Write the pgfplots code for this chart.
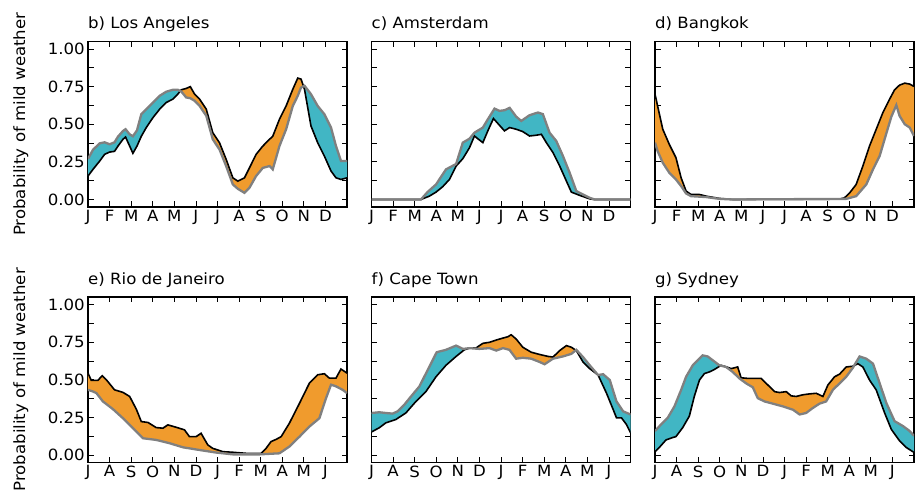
\documentclass[border=0pt]{standalone}
\usepackage{fontspec}
\setmainfont{DejaVu Sans}[FakeStretch=1.07]
\usepackage{pgfplots}
\pgfplotsset{compat=1.18}
\usepgfplotslibrary{groupplots,fillbetween}
\usetikzlibrary{calc}
\definecolor{tealfill}{RGB}{65,182,196}
\definecolor{orangefill}{RGB}{240,155,45}
\definecolor{pastgray}{RGB}{128,128,128}
\newcommand\fs{\fontsize{15.5}{18}\selectfont}
\begin{document}
\begin{tikzpicture}
\begin{groupplot}[
  group style={group size=3 by 2, horizontal sep=24.5pt, vertical sep=90pt},
  width=259pt, height=165.5pt, scale only axis,
  xmin=0, xmax=12, ymin=-0.05, ymax=1.05,
  xtick={0,1,2,3,4,5,6,7,8,9,10,11},
  ytick={0,0.125,0.25,0.375,0.5,0.625,0.75,0.875,1},
  yticklabels={},
  tick align=inside,
  major tick length=5.5pt,
  every tick/.style={black,line width=0.8pt},
  axis line style={line width=1.5pt},
  ticklabel style={font=\fs},
  xticklabel style={inner sep=2pt,yshift=-1pt},
  yticklabel style={inner sep=3pt},
  title style={at={(0,1)},anchor=base west,yshift=6.5pt,font=\fs,inner sep=0pt},
  ylabel style={at={(axis description cs:-0.243,0.5)},anchor=base,font=\fs},
  set layers,
  fut/.style={draw=black,line width=1.6pt},
  past/.style={draw=pastgray,line width=2.3pt},
]
% b) Los Angeles
\nextgroupplot[title={b) Los Angeles},
  ylabel={Probability of mild weather},
  yticklabels={0.00,,0.25,,0.50,,0.75,,1.00},
  xticklabels={J,F,M,A,M,J,J,A,S,O,N,D}]
\addplot[fut,name path=B1] coordinates {(0,0.156)(0.23,0.20)(0.54,0.255)(0.77,0.30)(1.00,0.315)(1.23,0.32)(1.39,0.355)(1.62,0.40)(1.74,0.415)(1.93,0.355)(2.08,0.307)(2.27,0.355)(2.47,0.42)(2.70,0.478)(3.01,0.544)(3.32,0.60)(3.62,0.644)(3.93,0.667)(4.16,0.70)(4.32,0.729)(4.55,0.738)(4.74,0.75)(4.94,0.70)(5.17,0.667)(5.48,0.60)(5.78,0.444)(6.09,0.378)(6.40,0.267)(6.71,0.144)(6.94,0.122)(7.25,0.144)(7.48,0.21)(7.79,0.30)(8.10,0.355)(8.41,0.40)(8.56,0.42)(8.87,0.533)(9.18,0.622)(9.49,0.733)(9.72,0.807)(9.87,0.80)(10.03,0.733)(10.33,0.489)(10.64,0.378)(10.95,0.289)(11.26,0.189)(11.49,0.144)(11.72,0.133)(12,0.144)};
\addplot[past,name path=G1] coordinates {(0,0.27)(0.23,0.33)(0.54,0.373)(0.77,0.38)(1.00,0.367)(1.23,0.38)(1.39,0.418)(1.62,0.455)(1.74,0.467)(1.93,0.433)(2.08,0.42)(2.27,0.46)(2.47,0.567)(2.70,0.60)(3.01,0.644)(3.32,0.689)(3.62,0.716)(3.93,0.729)(4.16,0.729)(4.32,0.718)(4.55,0.678)(4.74,0.673)(4.94,0.656)(5.17,0.622)(5.48,0.556)(5.78,0.40)(6.09,0.333)(6.40,0.222)(6.71,0.10)(6.94,0.071)(7.25,0.044)(7.48,0.078)(7.79,0.156)(8.10,0.21)(8.41,0.222)(8.56,0.20)(8.87,0.355)(9.18,0.467)(9.49,0.622)(9.72,0.689)(9.87,0.744)(10.03,0.756)(10.33,0.70)(10.64,0.622)(10.95,0.567)(11.26,0.478)(11.49,0.355)(11.72,0.256)(12,0.256)};
\addplot[tealfill] fill between[of=B1 and G1, soft clip={domain=0:4.25}];
\addplot[orangefill] fill between[of=B1 and G1, soft clip={domain=4.25:9.95}];
\addplot[tealfill] fill between[of=B1 and G1, soft clip={domain=9.95:12}];
% c) Amsterdam
\nextgroupplot[title={c) Amsterdam},
  xticklabels={J,F,M,A,M,J,J,A,S,O,N,D}]
\addplot[fut,name path=B2] coordinates {(0,0)(2.29,0)(2.68,0.022)(2.99,0.049)(3.30,0.085)(3.61,0.133)(3.92,0.222)(4.23,0.271)(4.54,0.344)(4.77,0.422)(4.92,0.404)(5.16,0.378)(5.39,0.456)(5.65,0.538)(5.93,0.493)(6.16,0.456)(6.40,0.478)(6.70,0.467)(7.01,0.451)(7.32,0.422)(7.63,0.427)(7.87,0.433)(8.10,0.378)(8.41,0.311)(8.72,0.222)(9.03,0.122)(9.26,0.049)(9.65,0.027)(10.11,0.004)(10.3,0)(12,0)};
\addplot[past,name path=G2] coordinates {(0,0)(2.29,0)(2.60,0.05)(2.99,0.10)(3.45,0.20)(3.92,0.236)(4.23,0.378)(4.54,0.404)(4.77,0.444)(5.16,0.478)(5.39,0.533)(5.70,0.604)(5.93,0.589)(6.16,0.593)(6.40,0.609)(6.70,0.551)(6.94,0.522)(7.32,0.56)(7.71,0.578)(7.94,0.567)(8.25,0.444)(8.56,0.389)(8.87,0.289)(9.18,0.178)(9.49,0.056)(9.80,0.033)(10.11,0.011)(10.34,0)(12,0)};
\addplot[tealfill] fill between[of=B2 and G2];
% d) Bangkok
\nextgroupplot[title={d) Bangkok},
  xticklabels={J,F,M,A,M,J,J,A,S,O,N,D}]
\addplot[fut,name path=B3] coordinates {(0,0.70)(0.12,0.622)(0.36,0.467)(0.66,0.367)(0.97,0.278)(1.21,0.144)(1.44,0.056)(1.67,0.033)(2.06,0.033)(2.37,0.022)(2.98,0.007)(3.60,0)(8.55,0.002)(8.78,0.011)(9.02,0.044)(9.32,0.10)(9.63,0.222)(9.94,0.356)(10.25,0.467)(10.56,0.578)(10.87,0.667)(11.10,0.729)(11.33,0.76)(11.57,0.773)(11.80,0.767)(12,0.751)};
\addplot[past,name path=G3] coordinates {(0,0.378)(0.12,0.322)(0.36,0.244)(0.66,0.178)(0.97,0.133)(1.21,0.089)(1.44,0.04)(1.67,0.022)(2.37,0.016)(2.98,0.004)(3.60,0)(8.86,0.004)(9.32,0.022)(9.79,0.10)(10.10,0.20)(10.41,0.29)(10.72,0.44)(10.95,0.55)(11.18,0.627)(11.33,0.556)(11.57,0.50)(11.80,0.478)(12,0.422)};
\addplot[orangefill] fill between[of=B3 and G3];
% e) Rio de Janeiro
\nextgroupplot[title={e) Rio de Janeiro},
  ylabel={Probability of mild weather},
  yticklabels={0.00,,0.25,,0.50,,0.75,,1.00},
  xticklabels={J,A,S,O,N,D,J,F,M,A,M,J}]
\addplot[fut,name path=B4] coordinates {(0,0.544)(0.15,0.496)(0.46,0.496)(0.66,0.527)(0.85,0.50)(1.23,0.433)(1.62,0.416)(1.93,0.389)(2.24,0.304)(2.47,0.222)(2.78,0.216)(3.16,0.182)(3.47,0.178)(3.70,0.20)(4.09,0.184)(4.47,0.167)(4.70,0.122)(5.01,0.122)(5.24,0.144)(5.55,0.067)(5.78,0.044)(6.25,0.022)(6.71,0.018)(7.33,0.011)(8.02,0.011)(8.25,0.044)(8.48,0.089)(8.72,0.104)(8.95,0.122)(9.33,0.211)(9.80,0.344)(10.26,0.478)(10.64,0.533)(10.95,0.540)(11.18,0.511)(11.49,0.511)(11.72,0.571)(12,0.544)};
\addplot[past,name path=G4] coordinates {(0,0.433)(0.23,0.422)(0.39,0.411)(0.69,0.356)(1.16,0.304)(1.62,0.244)(2.08,0.178)(2.55,0.111)(3.16,0.10)(3.78,0.078)(4.40,0.051)(5.17,0.033)(5.94,0.016)(6.71,0.004)(7.94,0.004)(8.87,0.011)(9.33,0.056)(9.80,0.122)(10.26,0.189)(10.72,0.244)(11.03,0.378)(11.26,0.467)(11.49,0.456)(11.80,0.433)(12,0.411)};
\addplot[orangefill] fill between[of=B4 and G4];
% f) Cape Town
\nextgroupplot[title={f) Cape Town},
  xticklabels={J,A,S,O,N,D,J,F,M,A,M,J}]
\addplot[fut,name path=B5] coordinates {(0,0.153)(0.36,0.181)(0.67,0.214)(1.13,0.236)(1.59,0.279)(2.06,0.356)(2.52,0.421)(2.99,0.52)(3.45,0.596)(3.92,0.655)(4.30,0.699)(4.54,0.71)(4.85,0.712)(5.16,0.742)(5.47,0.749)(5.78,0.764)(6.09,0.777)(6.32,0.786)(6.47,0.799)(6.70,0.771)(7.01,0.716)(7.40,0.683)(7.79,0.668)(8.18,0.655)(8.41,0.651)(8.72,0.694)(9.03,0.727)(9.26,0.716)(9.49,0.694)(9.80,0.618)(10.11,0.574)(10.50,0.531)(10.89,0.41)(11.20,0.301)(11.35,0.247)(11.58,0.247)(11.81,0.203)(12,0.148)};
\addplot[past,name path=G5] coordinates {(0,0.279)(0.36,0.284)(0.67,0.279)(0.98,0.275)(1.21,0.29)(1.52,0.334)(1.83,0.389)(2.21,0.454)(2.52,0.541)(2.83,0.629)(3.02,0.683)(3.45,0.699)(3.92,0.727)(4.23,0.705)(4.54,0.71)(5.0,0.705)(5.47,0.71)(5.78,0.694)(6.09,0.71)(6.39,0.699)(6.70,0.64)(7.01,0.646)(7.40,0.64)(7.79,0.618)(8.02,0.603)(8.41,0.64)(8.87,0.655)(9.26,0.672)(9.49,0.699)(9.80,0.651)(10.11,0.596)(10.50,0.531)(10.73,0.537)(11.04,0.498)(11.35,0.356)(11.66,0.290)(12,0.269)};
\addplot[tealfill] fill between[of=B5 and G5, soft clip={domain=0:4.45}];
\addplot[orangefill] fill between[of=B5 and G5, soft clip={domain=4.45:9.5}];
\addplot[tealfill] fill between[of=B5 and G5, soft clip={domain=9.5:12}];
% g) Sydney
\nextgroupplot[title={g) Sydney},
  xticklabels={J,A,S,O,N,D,J,F,M,A,M,J}]
\addplot[fut,name path=B6] coordinates {(0,0.022)(0.2,0.05)(0.51,0.10)(0.82,0.116)(0.97,0.122)(1.28,0.181)(1.59,0.258)(1.82,0.389)(2.06,0.498)(2.29,0.541)(2.52,0.552)(2.75,0.568)(3.06,0.596)(3.32,0.585)(3.53,0.574)(3.83,0.585)(3.99,0.513)(4.30,0.509)(4.61,0.509)(4.92,0.509)(5.23,0.465)(5.54,0.421)(5.77,0.415)(6.08,0.421)(6.31,0.393)(6.54,0.389)(6.85,0.40)(7.16,0.406)(7.47,0.41)(7.78,0.389)(8.01,0.465)(8.32,0.52)(8.55,0.537)(8.86,0.585)(9.17,0.59)(9.40,0.607)(9.63,0.585)(9.94,0.498)(10.25,0.432)(10.64,0.279)(10.95,0.17)(11.33,0.094)(11.64,0.05)(12,0.017)};
\addplot[past,name path=G6] coordinates {(0,0.159)(0.28,0.203)(0.59,0.247)(0.90,0.323)(1.21,0.432)(1.44,0.52)(1.75,0.596)(1.98,0.629)(2.21,0.662)(2.44,0.655)(2.68,0.629)(2.98,0.596)(3.29,0.585)(3.60,0.552)(3.91,0.509)(4.22,0.476)(4.53,0.45)(4.76,0.378)(5.07,0.356)(5.46,0.341)(5.92,0.323)(6.39,0.301)(6.70,0.269)(7.0,0.279)(7.31,0.312)(7.62,0.341)(7.93,0.356)(8.24,0.432)(8.55,0.476)(8.86,0.52)(9.17,0.58)(9.25,0.60)(9.48,0.655)(9.79,0.64)(10.10,0.607)(10.41,0.476)(10.72,0.345)(11.10,0.225)(11.49,0.192)(11.80,0.159)(12,0.127)};
\addplot[tealfill] fill between[of=B6 and G6, soft clip={domain=0:3.2}];
\addplot[orangefill] fill between[of=B6 and G6, soft clip={domain=3.2:9.25}];
\addplot[tealfill] fill between[of=B6 and G6, soft clip={domain=9.25:12}];
\end{groupplot}
\pgfresetboundingbox
\path[use as bounding box] ($(group c1r1.south west)+(-88pt,-287pt)$) rectangle ($(group c1r1.south west)+(827pt,207pt)$);
\end{tikzpicture}
\end{document}
